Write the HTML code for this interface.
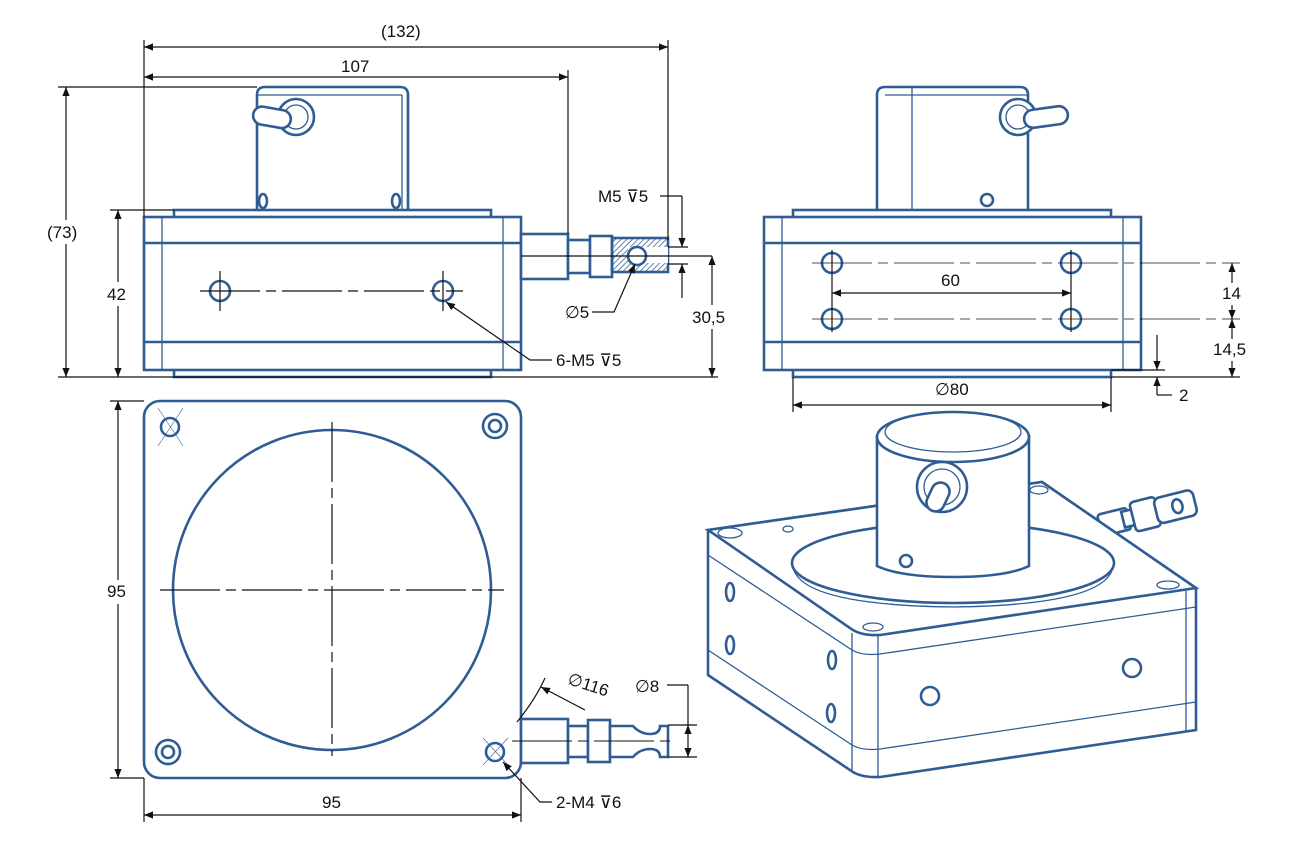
<!DOCTYPE html>
<html><head><meta charset="utf-8"><style>
html,body{margin:0;padding:0;background:#fff;width:1302px;height:845px;overflow:hidden}
text{font-family:"Liberation Sans",sans-serif;font-size:17px;fill:#111}
.b{fill:#fff;stroke:#2f5d93;stroke-width:2.6}
.t{fill:none;stroke:#2f5d93;stroke-width:1.3}
.d{stroke:#111;stroke-width:1.2;fill:none}
.c{stroke:#111;stroke-width:1.2;fill:none;stroke-dasharray:60 6 10 6}
.w{fill:#fff}
</style></head><body>
<svg width="1302" height="845" viewBox="0 0 1302 845" xmlns="http://www.w3.org/2000/svg">
<defs>
<marker id="a" viewBox="0 0 10 10" refX="10" refY="5" markerWidth="15" markerHeight="9" orient="auto-start-reverse" markerUnits="userSpaceOnUse"><path d="M0,1 L10,5 L0,9z" fill="#111"/></marker>
<pattern id="h" width="4" height="4" patternUnits="userSpaceOnUse" patternTransform="rotate(45)"><line x1="0" y1="0" x2="0" y2="4" stroke="#2f5d93" stroke-width="1.5"/></pattern>
</defs>

<!-- FRONT VIEW -->
<path class="b" d="M257,210 V95 Q257,87 265,87 H400 Q408,87 408,95 V210"/>
<line class="t" x1="257" y1="95" x2="402" y2="95"/><line class="t" x1="402" y1="95" x2="402" y2="210"/>
<circle class="b" cx="296" cy="117" r="18"/><circle class="t" cx="296" cy="117" r="12"/>
<rect class="b" x="253" y="108" width="38" height="18" rx="9" transform="rotate(10 270 117)"/>
<ellipse class="b" cx="263" cy="201" rx="4" ry="7"/><ellipse class="b" cx="396" cy="201" rx="4" ry="7"/>
<rect class="b" x="174" y="210" width="317" height="8"/>
<rect class="b" x="174" y="369" width="317" height="8"/>
<rect class="b" x="144" y="217" width="377" height="153"/>
<line class="b" x1="144" y1="243" x2="521" y2="243"/><line class="b" x1="144" y1="342" x2="521" y2="342"/>
<line class="t" x1="162" y1="217" x2="162" y2="370"/><line class="t" x1="503" y1="217" x2="503" y2="370"/>
<rect class="b" x="521" y="234" width="47" height="45"/>
<rect class="b" x="568" y="240" width="22" height="33"/>
<rect class="b" x="590" y="236" width="22" height="41"/>
<rect x="612" y="238" width="56" height="34" fill="url(#h)" stroke="#2f5d93" stroke-width="2.6"/>
<rect x="628" y="247" width="40" height="16" fill="#fff"/>
<circle class="b" cx="637" cy="256" r="9"/>
<line class="d" x1="521" y1="256" x2="712" y2="256"/>
<circle class="b" cx="220" cy="291" r="10"/><circle class="b" cx="443" cy="291" r="10"/>
<line class="c" x1="200" y1="291" x2="463" y2="291"/>
<line class="d" x1="220" y1="271" x2="220" y2="311"/><line class="d" x1="443" y1="271" x2="443" y2="311"/>

<!-- front dims -->
<line class="d" x1="144" y1="40" x2="144" y2="217"/><line class="d" x1="668" y1="40" x2="668" y2="240"/>
<line class="d" x1="144" y1="47" x2="668" y2="47" marker-start="url(#a)" marker-end="url(#a)"/>
<text x="381" y="37" font-size="18">(132)</text>
<line class="d" x1="568" y1="70" x2="568" y2="234"/>
<line class="d" x1="144" y1="77" x2="568" y2="77" marker-start="url(#a)" marker-end="url(#a)"/>
<text x="341" y="72">107</text>
<line class="d" x1="58" y1="87" x2="257" y2="87"/>
<line class="d" x1="58" y1="377" x2="718" y2="377"/>
<line class="d" x1="66" y1="87" x2="66" y2="377" marker-start="url(#a)" marker-end="url(#a)"/>
<rect class="w" x="46" y="220" width="40" height="24"/><text x="47" y="238">(73)</text>
<line class="d" x1="110" y1="210" x2="174" y2="210"/>
<line class="d" x1="118" y1="210" x2="118" y2="377" marker-start="url(#a)" marker-end="url(#a)"/>
<rect class="w" x="105" y="282" width="26" height="24"/><text x="107" y="300">42</text>
<line class="d" x1="712" y1="256" x2="712" y2="377" marker-start="url(#a)" marker-end="url(#a)"/>
<rect class="w" x="690" y="305" width="44" height="24"/><text x="692" y="323">30,5</text>
<line class="d" x1="668" y1="247" x2="688" y2="247"/><line class="d" x1="668" y1="264" x2="688" y2="264"/>
<line class="d" x1="682" y1="196" x2="682" y2="247" marker-end="url(#a)"/>
<line class="d" x1="682" y1="298" x2="682" y2="264" marker-end="url(#a)"/>
<line class="d" x1="660" y1="196" x2="682" y2="196"/>
<text x="598" y="202">M5 ⊽5</text>
<text x="565" y="318">∅5</text>
<polyline class="d" points="592,312 614,312 635,264" marker-end="url(#a)"/>
<text x="556" y="366">6-M5 ⊽5</text>
<polyline class="d" points="552,360 530,360 446,302" marker-end="url(#a)"/>

<!-- SIDE VIEW -->
<path class="b" d="M877,210 V95 Q877,87 885,87 H1020 Q1028,87 1028,95 V210"/>
<line class="t" x1="912" y1="87" x2="912" y2="210"/><line class="t" x1="885" y1="95" x2="1028" y2="95"/>
<circle class="b" cx="1018" cy="117" r="18"/><circle class="t" cx="1018" cy="117" r="12"/>
<rect class="b" x="1024" y="108" width="44" height="18" rx="9" transform="rotate(-8 1046 117)"/>
<circle class="b" cx="987" cy="200" r="6"/>
<rect class="b" x="793" y="210" width="318" height="8"/>
<rect class="b" x="793" y="369" width="318" height="8"/>
<rect class="b" x="764" y="217" width="377" height="153"/>
<line class="b" x1="764" y1="243" x2="1141" y2="243"/><line class="b" x1="764" y1="342" x2="1141" y2="342"/>
<line class="t" x1="782" y1="217" x2="782" y2="370"/><line class="t" x1="1123" y1="217" x2="1123" y2="370"/>
<circle class="b" cx="832" cy="263" r="10"/><circle class="b" cx="1071" cy="263" r="10"/>
<circle class="b" cx="832" cy="319" r="10"/><circle class="b" cx="1071" cy="319" r="10"/>
<line class="c" x1="812" y1="263" x2="1240" y2="263" style="stroke-width:0.8"/>
<line class="c" x1="812" y1="319" x2="1240" y2="319" style="stroke-width:0.8"/>
<line class="d" x1="832" y1="250" x2="832" y2="332"/><line class="d" x1="1071" y1="250" x2="1071" y2="332"/>
<line class="d" x1="832" y1="293" x2="1071" y2="293" marker-start="url(#a)" marker-end="url(#a)"/>
<text x="941" y="286">60</text>
<line class="d" x1="1232" y1="263" x2="1232" y2="319" marker-start="url(#a)" marker-end="url(#a)"/>
<rect class="w" x="1220" y="283" width="24" height="22"/><text x="1222" y="299">14</text>
<line class="d" x1="1232" y1="319" x2="1232" y2="377" marker-start="url(#a)" marker-end="url(#a)"/>
<rect class="w" x="1211" y="339" width="44" height="22"/><text x="1213" y="355">14,5</text>
<line class="d" x1="1111" y1="377" x2="1240" y2="377"/>
<line class="d" x1="1111" y1="370" x2="1165" y2="370"/>
<line class="d" x1="1157" y1="335" x2="1157" y2="370" marker-end="url(#a)"/>
<polyline class="d" points="1157,395 1157,377" marker-end="url(#a)"/>
<line class="d" x1="1157" y1="395" x2="1172" y2="395"/>
<text x="1179" y="401">2</text>
<line class="d" x1="793" y1="377" x2="793" y2="412"/><line class="d" x1="1111" y1="377" x2="1111" y2="412"/>
<line class="d" x1="793" y1="405" x2="1111" y2="405" marker-start="url(#a)" marker-end="url(#a)"/>
<text x="935" y="395">∅80</text>

<!-- BOTTOM VIEW -->
<rect class="b" x="144" y="401" width="377" height="377" rx="16"/>
<ellipse class="b" cx="332" cy="590" rx="159" ry="160"/>
<line class="c" x1="160" y1="590" x2="504" y2="590"/>
<line class="c" x1="332" y1="422" x2="332" y2="756"/>
<circle class="b" cx="170" cy="427" r="9"/>
<line class="t" x1="158" y1="408" x2="183" y2="446" style="stroke-width:.6"/><line class="t" x1="183" y1="408" x2="158" y2="446" style="stroke-width:.6"/>
<circle class="b" cx="495" cy="426" r="12"/><circle class="b" cx="495" cy="426" r="6"/>
<circle class="b" cx="168" cy="752" r="12"/><circle class="b" cx="168" cy="752" r="6"/>
<circle class="b" cx="495" cy="752" r="9"/>
<line class="t" x1="483" y1="738" x2="508" y2="765" style="stroke-width:.6"/><line class="t" x1="508" y1="738" x2="483" y2="765" style="stroke-width:.6"/>
<rect class="b" x="521" y="719" width="47" height="44"/>
<rect class="b" x="568" y="726" width="20" height="31"/>
<rect class="b" x="588" y="720" width="22" height="42"/>
<path class="b" d="M610,726 H633 Q640,734 650,734 Q660,734 660,726 H668 V757 H660 Q660,749 650,749 Q640,749 633,757 H610z"/>
<line class="c" x1="512" y1="741" x2="670" y2="741" style="stroke-width:.9"/>
<line class="d" x1="668" y1="725" x2="697" y2="725"/><line class="d" x1="668" y1="757" x2="697" y2="757"/>
<line class="d" x1="688" y1="725" x2="688" y2="757" marker-start="url(#a)" marker-end="url(#a)"/>
<line class="d" x1="667" y1="685" x2="688" y2="685"/><line class="d" x1="688" y1="685" x2="688" y2="725"/>
<text x="635" y="692">∅8</text>
<path class="d" d="M545,678 Q535,700 517,722"/>
<line class="d" x1="585" y1="710" x2="541" y2="687" marker-end="url(#a)"/>
<text x="566" y="688" font-size="18" transform="rotate(18 580 688)">∅116</text>
<polyline class="d" points="552,802 540,802 503,762" marker-end="url(#a)"/>
<text x="556" y="808">2-M4 ⊽6</text>
<line class="d" x1="110" y1="401" x2="144" y2="401"/><line class="d" x1="110" y1="778" x2="144" y2="778"/>
<line class="d" x1="118" y1="401" x2="118" y2="778" marker-start="url(#a)" marker-end="url(#a)"/>
<rect class="w" x="105" y="580" width="26" height="24"/><text x="107" y="597">95</text>
<line class="d" x1="144" y1="778" x2="144" y2="822"/><line class="d" x1="521" y1="778" x2="521" y2="822"/>
<line class="d" x1="144" y1="815" x2="521" y2="815" marker-start="url(#a)" marker-end="url(#a)"/>
<text x="322" y="808">95</text>

<!-- ISO VIEW -->
<g transform="rotate(-14 1150 512)">
<rect class="b" x="1098" y="502" width="30" height="22" rx="3"/>
<rect class="b" x="1122" y="505" width="12" height="16"/>
<rect class="b" x="1132" y="498" width="26" height="30" rx="4"/>
<rect class="b" x="1156" y="500" width="40" height="26" rx="6"/>
<ellipse class="b" cx="1178" cy="513" rx="5" ry="7"/>
</g>
<path class="b" d="M708,530 L1042,482 L1196,588 V730 L880,777 Q860,778 850,770 L708,675z"/>
<path class="b" d="M708,530 L1042,482 L1196,588 L880,635 Q860,636 850,628z"/>
<path class="t" d="M708,555 L852,650 Q862,656 880,654 L1196,607"/>
<path class="t" d="M708,650 L852,745 Q862,751 880,749 L1196,702"/>
<line class="t" x1="852" y1="633" x2="852" y2="770"/><line class="t" x1="878" y1="635" x2="878" y2="777"/>
<line class="t" x1="1186" y1="590" x2="1186" y2="732"/>
<ellipse class="t" cx="730" cy="533" rx="12" ry="5"/><ellipse class="t" cx="788" cy="529" rx="5" ry="3"/>
<ellipse class="t" cx="873" cy="627" rx="10" ry="4"/><ellipse class="t" cx="1168" cy="585" rx="11" ry="4"/>
<ellipse class="t" cx="1039" cy="490" rx="9" ry="4"/>
<ellipse class="b" cx="730" cy="592" rx="4" ry="9"/><ellipse class="b" cx="730" cy="645" rx="4" ry="9"/>
<ellipse class="b" cx="832" cy="660" rx="4" ry="9"/><ellipse class="b" cx="831" cy="713" rx="4" ry="9"/>
<circle class="b" cx="930" cy="696" r="9"/><circle class="b" cx="1132" cy="668" r="9"/>
<ellipse class="b" cx="953" cy="563" rx="161" ry="40"/>
<path class="t" d="M793,567 Q800,605 953,607 Q1106,605 1113,567"/>
<path class="b" d="M877,435 V566 Q900,577 953,577 Q1006,577 1029,566 V435"/>
<ellipse class="b" cx="953" cy="437" rx="76" ry="25"/>
<ellipse class="t" cx="953" cy="432" rx="68" ry="20"/>
<circle class="b" cx="942" cy="487" r="25"/>
<circle class="t" cx="942" cy="487" r="18"/>
<rect class="b" x="929" y="482" width="18" height="30" rx="9" transform="rotate(25 938 497)"/>
<circle class="b" cx="906" cy="561" r="6"/>
</svg>
</body></html>
